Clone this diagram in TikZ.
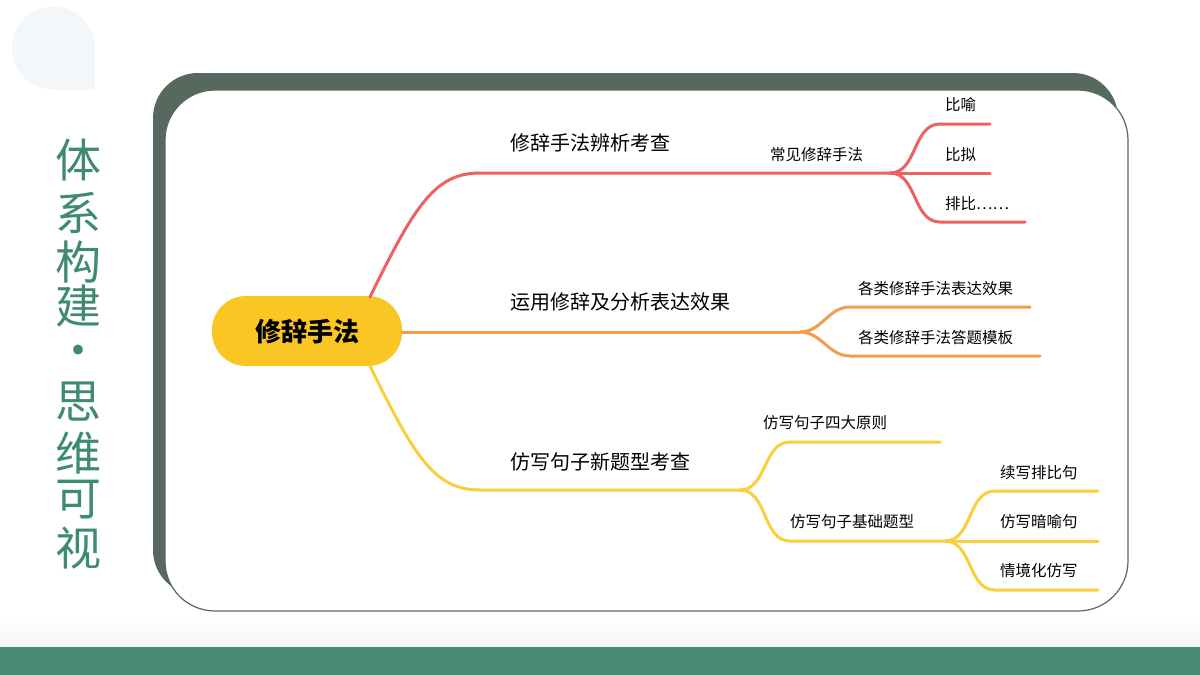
\documentclass[tikz,border=0pt]{standalone}
\usepackage{fontspec}
\setmainfont{Noto Sans CJK SC}
\usetikzlibrary{calc}
\definecolor{dkg}{HTML}{56695F}
\definecolor{grn}{HTML}{478B77}
\definecolor{ttl}{HTML}{3F8B70}
\definecolor{rd}{HTML}{EC6262}
\definecolor{org}{HTML}{F49B4E}
\definecolor{yl}{HTML}{F7D03C}
\definecolor{root}{HTML}{F9C623}
\definecolor{deco}{HTML}{F4F7FA}
\tikzset{
 big/.style={font=\fontsize{20}{24}\selectfont, anchor=west, inner sep=0},
 sml/.style={font=\fontsize{15.5}{18}\selectfont, anchor=west, inner sep=0},
 br/.style={line width=3pt, line cap=round},
 tt/.style={font=\fontsize{46}{50}\selectfont, text=ttl, inner sep=0},
}
\begin{document}
\begin{tikzpicture}[x=1pt,y=-1pt]
\useasboundingbox (0,0) rectangle (1200,675);
\fill[white] (0,0) rectangle (1200,675);
% decorative
\fill[deco] (53.5,48) circle[radius=41.5];
\fill[deco] (53.5,48) rectangle (95,90);
% bottom
\shade[top color=white,bottom color=black!4] (0,615) rectangle (1200,647);
\fill[grn] (0,647) rectangle (1200,675);
% cards
\fill[dkg, rounded corners=45] (153,73) rectangle (1118,595);
\draw[dkg, fill=white, line width=1.2pt, rounded corners=50] (165,90) rectangle (1128,611);
% title
\foreach \c/\y in {体/160,系/213,构/262,建/306,·/356,思/402,维/453,可/500,视/548}
  \node[tt] at (78,\y) {\c};
% root
\node[fill=root, rounded corners=34, minimum width=190, minimum height=70, font=\fontsize{26}{30}\selectfont\bfseries, inner sep=0] (R) at (307,331) {修辞手法};
% coordinates
\coordinate (r0) at (370,297);
\coordinate (r1) at (480,173);
\coordinate (r2) at (890,173);
\coordinate (r3) at (990,124);
\coordinate (r4) at (990,173);
\coordinate (r5) at (1025,222);
\coordinate (o0) at (402,332);
\coordinate (o1) at (800,332);
\coordinate (o2) at (1030,307);
\coordinate (o3) at (1040,356);
\coordinate (y0) at (370,366);
\coordinate (y1) at (480,490);
\coordinate (y2) at (740,490);
\coordinate (y3) at (940,442);
\coordinate (y4) at (945,541);
\coordinate (y5) at (1098,491);
\coordinate (y6) at (1098,541);
\coordinate (y7) at (1098,590);
% red
\draw[br,rd] (r0) .. controls (415,205) and (435,173) .. (r1) -- (r2);
\draw[br,rd] (r2) to[out=0,in=180] ($(r3)+(-50,0)$) -- (r3);
\draw[br,rd] (r2) -- (r4);
\draw[br,rd] (r2) to[out=0,in=180] ($(r5)+(-85,0)$) -- (r5);
% orange
\draw[br,org] (o0) -- (o1);
\draw[br,org] (o1) to[out=0,in=180] ($(o2)+(-180,0)$) -- (o2);
\draw[br,org] (o1) to[out=0,in=180] ($(o3)+(-190,0)$) -- (o3);
% yellow
\draw[br,yl] (y0) .. controls (415,458) and (435,490) .. (y1) -- (y2);
\draw[br,yl] (y2) to[out=0,in=180] ($(y3)+(-150,0)$) -- (y3);
\draw[br,yl] (y2) to[out=0,in=180] ($(y4)+(-155,0)$) -- (y4);
\draw[br,yl] (y4) to[out=0,in=180] ($(y5)+(-103,0)$) -- (y5);
\draw[br,yl] (y4) -- (y6);
\draw[br,yl] (y4) to[out=0,in=180] ($(y7)+(-103,0)$) -- (y7);
% labels
\node[big] (L1) at (510,143) {修辞手法辨析考查};
\node[sml] (L11) at (770,155) {常见修辞手法};
\node[sml] (a1) at (945,105) {比喻};
\node[sml] (a2) at (945,155) {比拟};
\node[sml] (a3) at (945,204) {排比……};
\node[big] (L2) at (510,302) {运用修辞及分析表达效果};
\node[sml] (b1) at (858,289) {各类修辞手法表达效果};
\node[sml] (b2) at (858,338) {各类修辞手法答题模板};
\node[big] (L3) at (510,462) {仿写句子新题型考查};
\node[sml] (c1) at (763,423) {仿写句子四大原则};
\node[sml] (c2) at (790,522) {仿写句子基础题型};
\node[sml] (d1) at (1000,473) {续写排比句};
\node[sml] (d2) at (1000,522) {仿写暗喻句};
\node[sml] (d3) at (1000,571) {情境化仿写};
\end{tikzpicture}
\end{document}
